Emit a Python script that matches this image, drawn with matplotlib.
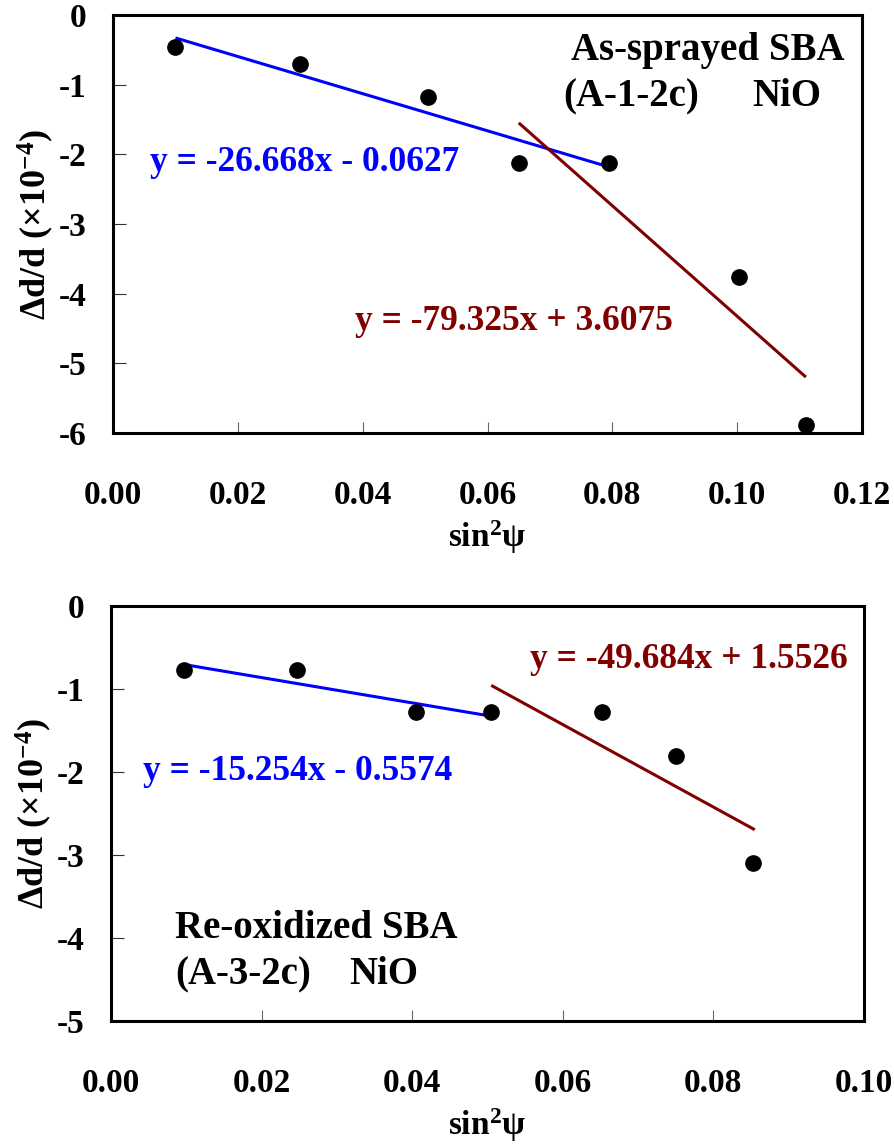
import matplotlib
matplotlib.use("Agg")
import matplotlib.pyplot as plt
import numpy as np

plt.rcParams['font.family'] = ['Liberation Serif', 'DejaVu Serif']
plt.rcParams['font.weight'] = 'bold'
plt.rcParams['mathtext.fontset'] = 'custom'
plt.rcParams['mathtext.rm'] = 'Liberation Serif:bold'
plt.rcParams['mathtext.bf'] = 'Liberation Serif:bold'
plt.rcParams['mathtext.it'] = 'Liberation Serif:bold'

# Top panel: As-sprayed SBA (A-1-2c) NiO
top_x = [0.01, 0.03, 0.0505, 0.065, 0.0795, 0.1003, 0.111]
top_y = [-0.46, -0.70, -1.18, -2.12, -2.12, -3.76, -5.88]
top_fit1 = (-26.668, -0.0627)   # slope, intercept
top_fit1_range = [0.01, 0.08]
top_fit2 = (-79.325, 3.6075)
top_fit2_range = [0.065, 0.111]
top_eq1 = "y = -26.668x - 0.0627"
top_eq2 = "y = -79.325x + 3.6075"
top_xticks = [0.00, 0.02, 0.04, 0.06, 0.08, 0.10, 0.12]
top_yticks = [0, -1, -2, -3, -4, -5, -6]

# Bottom panel: Re-oxidized SBA (A-3-2c) NiO
bot_x = [0.0097, 0.0247, 0.0405, 0.0505, 0.0652, 0.075, 0.0853]
bot_y = [-0.77, -0.77, -1.28, -1.28, -1.28, -1.81, -3.10]
bot_fit1 = (-15.254, -0.5574)
bot_fit1_range = [0.01, 0.051]
bot_fit2 = (-49.684, 1.5526)
bot_fit2_range = [0.0505, 0.0855]
bot_eq1 = "y = -15.254x - 0.5574"
bot_eq2 = "y = -49.684x + 1.5526"
bot_xticks = [0.00, 0.02, 0.04, 0.06, 0.08, 0.10]
bot_yticks = [0, -1, -2, -3, -4, -5]

BLUE = '#0000FF'
RED = '#800000'
FS = 24      # tick labels
FS_EQ = 25.5 # equations
FS_LB = 28   # sample labels
FS_AX = 26   # axis titles

fig = plt.figure(figsize=(8.95, 11.44), dpi=100)
ax1 = fig.add_axes([0.1263, 0.6215, 0.8369, 0.3654])
ax2 = fig.add_axes([0.1240, 0.1075, 0.8413, 0.3628])


def style(ax, xticks, yticks):
    ax.set_xlim(xticks[0], xticks[-1])
    ax.set_ylim(yticks[-1], yticks[0])
    ax.set_xticks(xticks)
    ax.set_yticks(yticks)
    ax.set_xticklabels([f"{t:.2f}" for t in xticks])
    ax.set_yticklabels([f"{t:d}" for t in yticks])
    for s in ax.spines.values():
        s.set_linewidth(2.2)
    ax.tick_params(axis='x', direction='in', length=8, width=0.8, color='#666666',
                   pad=34, labelsize=FS, top=False)
    ax.tick_params(axis='y', direction='in', length=9, width=0.8, color='#333333',
                   pad=19, labelsize=FS, right=False)
    for lab in ax.get_xticklabels() + ax.get_yticklabels():
        lab.set_fontweight('bold')
    ax.set_xlabel(r'sin$^{2}$ψ', fontsize=FS, fontweight='bold', labelpad=5)
    ax.set_ylabel(r'Δd/d (×10$^{-4}$)', fontsize=FS_AX, fontweight='bold', labelpad=2)


def fitline(ax, fit, rng, color):
    xs = np.array(rng)
    ax.plot(xs, fit[0] * xs + fit[1], color=color, lw=2.2, solid_capstyle='butt', zorder=3)


def txt(ax, x, y, s, color='black', size=FS_EQ, ha='left'):
    ax.text(x, y, s, transform=ax.transAxes, color=color, fontsize=size,
            fontweight='bold', va='center', ha=ha)


style(ax1, top_xticks, top_yticks)
ax1.plot(top_x, top_y, 'o', color='black', markersize=11, zorder=4)
fitline(ax1, top_fit1, top_fit1_range, BLUE)
fitline(ax1, top_fit2, top_fit2_range, RED)
txt(ax1, 0.049, 0.648, top_eq1, BLUE)
txt(ax1, 0.323, 0.266, top_eq2, RED)
txt(ax1, 0.977, 0.916, "As-sprayed SBA", size=FS_LB, ha='right')
txt(ax1, 0.601, 0.804, "(A-1-2c)", size=FS_LB)
txt(ax1, 0.853, 0.804, "NiO", size=FS_LB)

style(ax2, bot_xticks, bot_yticks)
ax2.plot(bot_x, bot_y, 'o', color='black', markersize=11, zorder=4)
fitline(ax2, bot_fit1, bot_fit1_range, BLUE)
fitline(ax2, bot_fit2, bot_fit2_range, RED)
txt(ax2, 0.556, 0.870, bot_eq2, RED)
txt(ax2, 0.0425, 0.602, bot_eq1, BLUE)
txt(ax2, 0.085, 0.224, "Re-oxidized SBA", size=FS_LB)
txt(ax2, 0.085, 0.111, "(A-3-2c)", size=FS_LB)
txt(ax2, 0.317, 0.111, "NiO", size=FS_LB)

fig.savefig('out.png', dpi=100)
